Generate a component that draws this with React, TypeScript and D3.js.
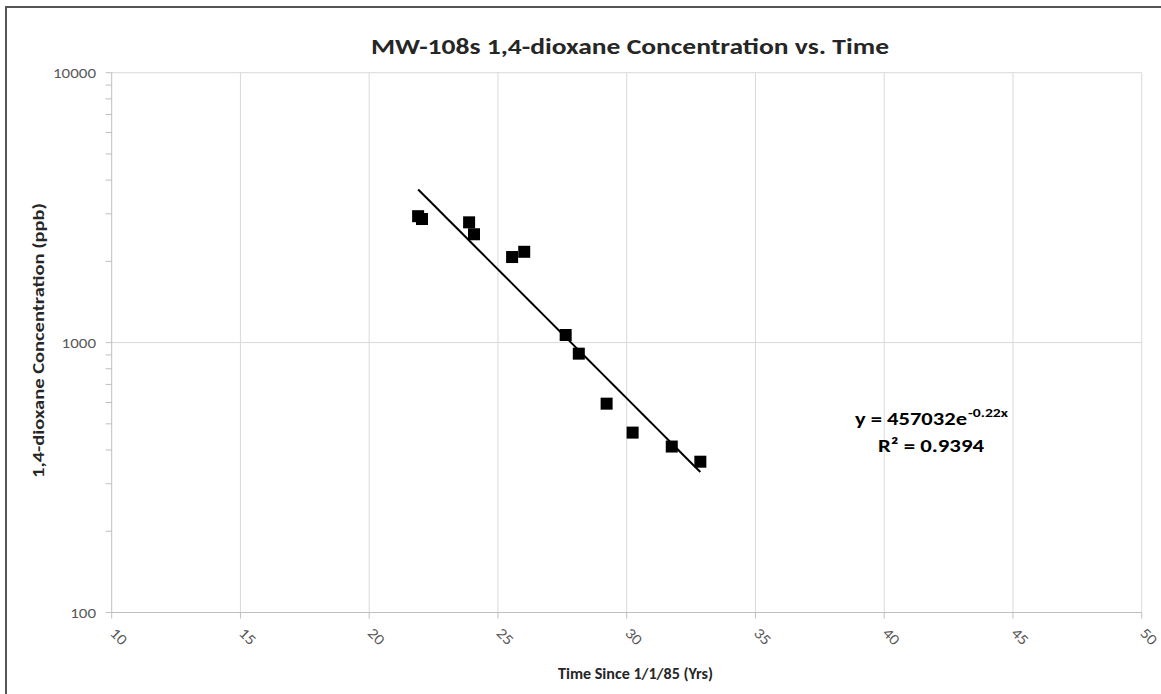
import React from "react";
import * as d3 from "d3";

const years = [21.9, 22.05, 23.88, 24.07, 25.55, 26.02, 27.63, 28.14, 29.22, 30.23, 31.75, 32.86];
const conc = [2940, 2870, 2790, 2520, 2075, 2170, 1067, 910, 594, 464, 412, 362];
const xTicks = [10, 15, 20, 25, 30, 35, 40, 45, 50];
const yMajor = [100, 1000, 10000];
const trendA = 457032;
const trendB = -0.22;
const rSquared = "0.9394";

const W = 1161;
const H = 694;
const FONT = "Carlito, Lato, 'Open Sans', sans-serif";

export default function App() {
  const x = d3.scaleLinear().domain([10, 50]).range([111.7, 1141.7]);
  const y = d3.scaleLog().domain([100, 10000]).range([612.5, 72.7]);

  const minor: number[] = [];
  [100, 1000].forEach((d) => {
    for (let k = 2; k <= 9; k++) minor.push(d * k);
  });

  const xMin = d3.min(years) as number;
  const xMax = d3.max(years) as number;
  const trendPts: [number, number][] = d3
    .range(0, 21)
    .map((i) => xMin + ((xMax - xMin) * i) / 20)
    .map((t) => [t, trendA * Math.exp(trendB * t)]);
  const line = d3
    .line<[number, number]>()
    .x((d) => x(d[0]))
    .y((d) => y(d[1]));

  const grid = "#d9d9d9";
  const axisC = "#bfbfbf";
  const tickText = "#595959";
  const digitW = 8.6;

  return (
    <svg
      width={W}
      height={H}
      style={{ position: "absolute", left: 0, top: 0, background: "#fff" }}
      fontFamily={FONT}
    >
      <rect x={0} y={0} width={W} height={H} fill="#fff" />
      {/* outer chart border */}
      <line x1={5} x2={W} y1={7} y2={7} stroke="#555" strokeWidth={2} />
      <line x1={6} x2={6} y1={6} y2={H} stroke="#555" strokeWidth={2} />

      {/* vertical gridlines */}
      {xTicks.slice(1).map((t) => (
        <line key={"vg" + t} x1={x(t)} x2={x(t)} y1={y(10000)} y2={y(100)} stroke={grid} strokeWidth={1} />
      ))}
      {/* horizontal gridlines */}
      {yMajor.slice(1).map((t) => (
        <line key={"hg" + t} x1={x(10)} x2={x(50)} y1={y(t)} y2={y(t)} stroke={grid} strokeWidth={1} />
      ))}

      {/* axes */}
      <line x1={x(10)} x2={x(10)} y1={y(10000)} y2={y(100)} stroke={axisC} strokeWidth={1} />
      <line x1={x(10)} x2={x(50)} y1={y(100)} y2={y(100)} stroke={axisC} strokeWidth={1} />
      {xTicks.map((t) => (
        <line key={"xt" + t} x1={x(t)} x2={x(t)} y1={y(100)} y2={y(100) + 6} stroke={axisC} />
      ))}
      {yMajor.map((t) => (
        <line key={"ymt" + t} x1={x(10) - 6} x2={x(10)} y1={y(t)} y2={y(t)} stroke={axisC} />
      ))}
      {minor.map((t) => (
        <line key={"ymn" + t} x1={x(10) - 6} x2={x(10)} y1={y(t)} y2={y(t)} stroke={axisC} />
      ))}

      {/* y tick labels */}
      {yMajor.map((t) => (
        <text
          key={"yl" + t}
          x={96 - String(t).length * digitW}
          y={y(t) + 5.5}
          fontSize={15}
          fill={tickText}
          textLength={String(t).length * digitW}
          lengthAdjust="spacingAndGlyphs"
        >
          {String(t)}
        </text>
      ))}
      {/* x tick labels */}
      {xTicks.map((t) => (
        <text
          key={"xl" + t}
          transform={`translate(${x(t) - 2.5},${634}) rotate(45)`}
          fontSize={15}
          fill={tickText}
          textLength={String(t).length * digitW}
          lengthAdjust="spacingAndGlyphs"
        >
          {String(t)}
        </text>
      ))}

      {/* trendline */}
      <path d={line(trendPts) || ""} fill="none" stroke="#000" strokeWidth={2} />

      {/* markers */}
      {years.map((t, i) => (
        <rect key={"p" + i} x={x(t) - 6} y={y(conc[i]) - 6} width={12} height={12} fill="#000" />
      ))}

      {/* title */}
      <text x={630} y={54} textAnchor="middle" fontSize={23} fontWeight="bold" fill="#262626" textLength={518} lengthAdjust="spacingAndGlyphs">
        MW-108s 1,4-dioxane Concentration vs. Time
      </text>

      {/* axis titles */}
      <text x={635.5} y={679} textAnchor="middle" fontSize={16} fontWeight="bold" fill="#262626" textLength={155} lengthAdjust="spacingAndGlyphs">
        Time Since 1/1/85 (Yrs)
      </text>
      <text
        transform="translate(43.5,340.5) rotate(-90)"
        textAnchor="middle"
        fontSize={16}
        fontWeight="bold"
        fill="#262626"
        textLength={275}
        lengthAdjust="spacingAndGlyphs"
      >
        1,4-dioxane Concentration (ppb)
      </text>

      {/* equation */}
      <text x={855} y={425} fontSize={19} fontWeight="bold" fill="#000" textLength={112} lengthAdjust="spacingAndGlyphs">
        {"y = " + trendA + "e"}
      </text>
      <text x={968} y={417} fontSize={12.5} fontWeight="bold" fill="#000" textLength={40} lengthAdjust="spacingAndGlyphs">
        {String(trendB) + "x"}
      </text>
      <text x={878} y={452} fontSize={19} fontWeight="bold" fill="#000" textLength={106} lengthAdjust="spacingAndGlyphs">
        {"R² = " + rSquared}
      </text>
    </svg>
  );
}
